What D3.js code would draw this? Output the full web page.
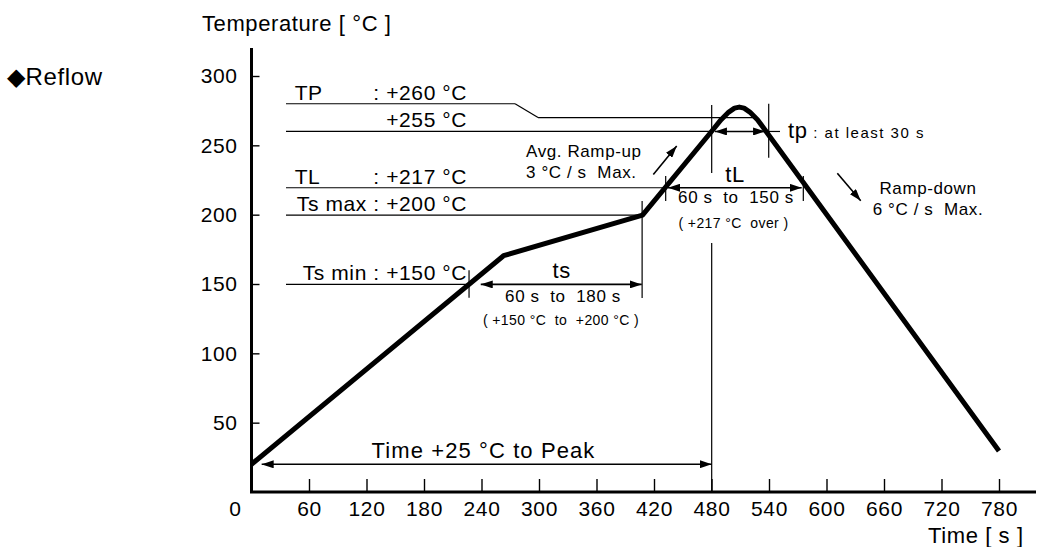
<!DOCTYPE html>
<html lang="en">
<head>
    <meta charset="UTF-8">
    <title>Reflow profile</title>
    <script src="https://cdn.jsdelivr.net/npm/d3@7"></script>
</head>
<style>
    body { margin: 0; background: #fff; }
    .chart text {
        font-family: "Liberation Sans", Arial, sans-serif;
        fill: #000;
        white-space: pre;
    }
    .big { font-size: 21px; letter-spacing: 0.6px; }
    .title { font-size: 22px; letter-spacing: 0.6px; }
    .mid { font-size: 17px; letter-spacing: 0.6px; }
    .small { font-size: 14px; letter-spacing: 0.4px; }
</style>
<body>
<svg class="chart"></svg>
<script>
    // profile (time s, temperature °C)
    let times = [0, 263, 408, 480, 490, 498, 504, 509, 514, 520, 528, 537, 780];
    let temps = [20, 170.4, 199.7, 260, 268.5, 274, 276.8, 277.6, 276.8, 274, 268.5, 260, 29.6];

    let xTicks = [60, 120, 180, 240, 300, 360, 420, 480, 540, 600, 660, 720, 780];
    let yTicks = [50, 100, 150, 200, 250, 300];

    // level lines on the left (drawn temperature, name, value text)
    let levelTemps = [280, 260, 219.4, 199.7, 149.7];
    let levelNames = ['TP', '', 'TL', '', ''];
    let levelValues = [': +260 °C', '+255 °C', ': +217 °C', 'Ts max : +200 °C', 'Ts min : +150 °C'];
    let levelEnds = [275, 480, 432.5, 407.6, 227];

    let width = 1038, height = 547;

    let x = d3.scaleLinear().domain([0, 780]).range([251.5, 999]);
    let y = d3.scaleLinear().domain([0, 300]).range([492, 76]);

    let svg = d3.select('.chart')
        .attr('width', width)
        .attr('height', height);

    // arrowhead
    svg.append('defs').append('marker')
        .attr('id', 'head')
        .attr('viewBox', '0 0 12 8')
        .attr('refX', 12).attr('refY', 4)
        .attr('markerWidth', 12).attr('markerHeight', 8)
        .attr('markerUnits', 'userSpaceOnUse')
        .attr('orient', 'auto-start-reverse')
        .append('path').attr('d', 'M0,0 L12,4 L0,8 Z').attr('fill', '#000');

    function seg(t1, T1, t2, T2, w) {
        return svg.append('line')
            .attr('x1', x(t1)).attr('y1', y(T1))
            .attr('x2', x(t2)).attr('y2', y(T2))
            .attr('stroke', '#000').attr('stroke-width', w || 1.2);
    }
    function arrow(t1, T1, t2, T2, both) {
        let l = seg(t1, T1, t2, T2, 1.6).attr('marker-end', 'url(#head)');
        if (both) l.attr('marker-start', 'url(#head)');
        return l;
    }
    function label(px, py, txt, cls, anchor) {
        return svg.append('text')
            .attr('x', px).attr('y', py)
            .attr('class', cls)
            .attr('text-anchor', anchor || 'start')
            .text(txt);
    }

    // axes
    svg.append('line').attr('x1', x(0)).attr('y1', 48).attr('x2', x(0)).attr('y2', y(0))
        .attr('stroke', '#000').attr('stroke-width', 3);
    svg.append('line').attr('x1', x(0) - 1.5).attr('y1', y(0)).attr('x2', 1036).attr('y2', y(0))
        .attr('stroke', '#000').attr('stroke-width', 3);

    let xAxis = svg.append('g')
        .attr('transform', 'translate(0,' + y(0) + ')')
        .call(d3.axisBottom(x).tickValues(xTicks).tickSize(-13).tickSizeOuter(0).tickPadding(9));
    xAxis.select('.domain').remove();
    xAxis.selectAll('line').attr('stroke-width', 1.4);
    xAxis.selectAll('text').attr('class', 'big').attr('font-family', null).attr('font-size', null);

    let yAxis = svg.append('g')
        .attr('transform', 'translate(' + x(0) + ',0)')
        .call(d3.axisLeft(y).tickValues(yTicks).tickSize(-8).tickSizeOuter(0).tickPadding(14));
    yAxis.select('.domain').remove();
    yAxis.selectAll('line').attr('stroke-width', 1.4);
    yAxis.selectAll('text').attr('class', 'big').attr('font-family', null).attr('font-size', null);

    label(x(0) - 10, y(0) + 24, '0', 'big', 'end');
    label(202, 31, 'Temperature [ °C ]', 'title');
    label(928, 543, 'Time [ s ]', 'title');
    label(7, 85, '◆Reflow', 'title').style('font-size', '24px');

    // level lines and their labels
    levelTemps.forEach((T, i) => {
        seg(36, T, levelEnds[i], T);
        if (levelNames[i]) label(x(45), y(T) - 4, levelNames[i], 'big');
        label(x(225), y(T) - 4, levelValues[i], 'big', 'end');
    });
    // TP line bends down to the peak
    seg(275, 280, 299, 270);
    seg(299, 270, 528, 270);

    // vertical guides
    seg(480.2, 0, 480.2, 179.5);
    seg(480.2, 230, 480.2, 279);
    seg(539.7, 280, 539.7, 241);
    seg(432.2, 227.8, 432.2, 209.8);
    seg(575.8, 227.8, 575.8, 209.8);
    seg(407.6, 209.8, 407.6, 139.9);
    seg(227, 160, 227, 140);

    // span arrows
    arrow(10.6, 20, 480.2, 20, true);
    arrow(239.2, 149.7, 407.2, 149.7, true);
    arrow(434.6, 219.4, 574.1, 219.4, true);
    arrow(483.6, 260, 535.9, 260, true);
    seg(535.9, 260, 551.5, 260);

    // slope arrows
    arrow(419.3, 229, 443.7, 249.5, false);
    arrow(611.3, 229.8, 635.7, 210, false);

    // profile
    let line = d3.line()
        .x((d, i) => x(times[i]))
        .y(d => y(d));
    svg.append('path')
        .datum(temps)
        .attr('d', line)
        .attr('fill', 'none')
        .attr('stroke', '#000')
        .attr('stroke-width', 5)
        .attr('stroke-linejoin', 'round');

    // annotation texts
    label(483.5, 458, 'Time +25 °C to Peak', 'title', 'middle').style('letter-spacing', '1.1px');
    label(561.7, y(149.7) - 6, 'ts', 'title', 'middle');
    label(563, 301.7, '60 s  to  180 s', 'mid', 'middle');
    label(561, 325, '( +150 °C  to  +200 °C )', 'small', 'middle');
    label(735, y(219.4) - 6, 'tL', 'title', 'middle');
    label(736, 203.3, '60 s  to  150 s', 'mid', 'middle');
    label(733.5, 228.3, '( +217 °C  over )', 'small', 'middle');
    let tp = label(788, 138, 'tp', 'title');
    tp.append('tspan').attr('class', 'small').style('font-size', '15px').style('letter-spacing', '1.5px')
        .text(' : at least 30 s');
    label(526, 156.7, 'Avg. Ramp-up', 'mid');
    label(526, 177.7, '3 °C / s  Max.', 'mid');
    label(928, 194, 'Ramp-down', 'mid', 'middle');
    label(928, 215, '6 °C / s  Max.', 'mid', 'middle');
</script>
</body>
</html>
